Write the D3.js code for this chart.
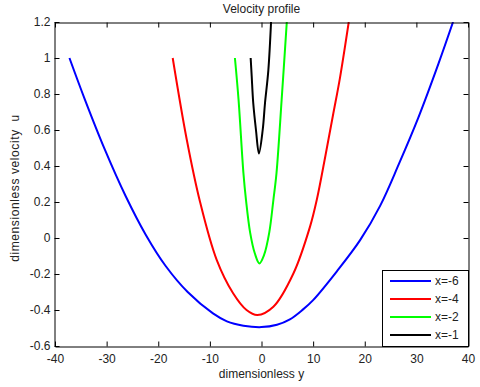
<!DOCTYPE html>
<meta charset="utf-8">
<style>
  body { margin: 0; background: #fff; }
  text { font-family: "Liberation Sans", Arial, sans-serif; font-size: 12px; fill: #222; }
</style>
<body>
<script src="https://d3js.org/d3.v7.min.js"></script>
<script>

// curve samples: [dimensionless y, u]
var blueData = [[-37.2,1.0],[-34.3,0.776],[-30.4,0.495],[-26.3,0.232],[-22.4,0.017],[-18.6,-0.154],[-14.3,-0.30],[-9.4,-0.419],[-6.7,-0.463],[-3.5,-0.487],[0,-0.495],[3,-0.482],[5.5,-0.452],[8,-0.398],[10.0,-0.345],[14.6,-0.185],[19.1,-0.012],[23.0,0.18],[26.6,0.41],[30.4,0.67],[34.3,0.97],[37.1,1.2]];
var redData = [[-17.2,1.0],[-14.5,0.55],[-11.9,0.2],[-8.7,-0.12],[-5.5,-0.307],[-2.9,-0.4],[-0.8,-0.428],[2.3,-0.382],[6.2,-0.196],[9.4,0.063],[10.7,0.211],[12.4,0.46],[13.9,0.69],[15.2,0.89],[16.9,1.2]];
var greenData = [[-5.15,1.0],[-4.45,0.77],[-3.5,0.36],[-3.0,0.21],[-2.2,0.03],[-1.3,-0.085],[-0.42,-0.141],[0.5,-0.094],[1.5,0.03],[2.3,0.211],[2.9,0.359],[3.9,0.767],[4.9,1.2]];
var blackData = [[-2.1,1.0],[-1.9,0.9],[-1.6,0.75],[-1.07,0.6],[-0.5,0.47],[0.23,0.6],[0.68,0.75],[1.32,0.93],[1.85,1.2]];

var seriesNames = ["x=-6", "x=-4", "x=-2", "x=-1"];
var seriesColors = ["#0000ff", "#ff0000", "#00ff00", "#000000"];
var seriesData = [blueData, redData, greenData, blackData];

var xTicks = [-40, -30, -20, -10, 0, 10, 20, 30, 40];
var yTicks = [-0.6, -0.4, -0.2, 0, 0.2, 0.4, 0.6, 0.8, 1, 1.2];

var W = 480, H = 387;
var L = 55, R = 468, T = 22, B = 346;

var x = d3.scaleLinear().domain([-40, 40]).range([L, R]);
var y = d3.scaleLinear().domain([-0.6, 1.2]).range([B, T]);

var svg = d3.select("body").append("svg")
    .attr("width", W)
    .attr("height", H);

svg.append("defs").append("clipPath").attr("id", "plot")
  .append("rect").attr("x", L).attr("y", T).attr("width", R - L).attr("height", B - T);

// curves
var line = d3.line()
    .x(function (d) { return x(d[0]); })
    .y(function (d) { return y(d[1]); })
    .curve(d3.curveCatmullRom.alpha(0.5));

svg.append("g").attr("clip-path", "url(#plot)")
  .selectAll("path")
    .data(seriesData)
  .enter().append("path")
    .attr("d", line)
    .attr("fill", "none")
    .attr("stroke", function (d, i) { return seriesColors[i]; })
    .attr("stroke-width", 2);

// axes, matlab style: ticks inside on all four sides
var tk = 5;
var plain = function (d) { return String(+d.toFixed(1)); };  // hyphen minus, like matlab
var axBottom = svg.append("g").attr("transform", "translate(0," + (B + 0.5) + ")")
    .call(d3.axisBottom(x).tickValues(xTicks).tickSizeInner(-tk).tickSizeOuter(0).tickPadding(8).tickFormat(plain));
var axTop = svg.append("g").attr("transform", "translate(0," + (T + 0.5) + ")")
    .call(d3.axisTop(x).tickValues(xTicks).tickSizeInner(-tk).tickSizeOuter(0).tickFormat(""));
var axLeft = svg.append("g").attr("transform", "translate(" + (L - 0.5) + ",0)")
    .call(d3.axisLeft(y).tickValues(yTicks).tickSizeInner(-tk).tickSizeOuter(0).tickPadding(4).tickFormat(plain));
var axRight = svg.append("g").attr("transform", "translate(" + (R + 0.5) + ",0)")
    .call(d3.axisRight(y).tickValues(yTicks).tickSizeInner(-tk).tickSizeOuter(0).tickFormat(""));

[axBottom, axTop, axLeft, axRight].forEach(function (g) {
    g.select(".domain").attr("stroke", "#000");
    g.selectAll(".tick line").attr("stroke", "#000");
    g.selectAll("text").attr("font-family", null).attr("font-size", null).attr("fill", "#222");
});

// titles
svg.append("text")
    .attr("x", (L + R) / 2).attr("y", 13)
    .attr("text-anchor", "middle")
    .text("Velocity profile");

svg.append("text")
    .attr("x", (L + R) / 2).attr("y", 378)
    .attr("text-anchor", "middle")
    .text("dimensionless y");

svg.append("text")
    .attr("transform", "translate(19," + 188 + ") rotate(-90)")
    .attr("text-anchor", "middle")
    .style("white-space", "pre")
    .style("letter-spacing", "0.6px")
    .text("dimensionless velocity  u");

// legend
var lg = svg.append("g");
lg.append("rect")
    .attr("x", 382.5).attr("y", 270.5)
    .attr("width", R - 382).attr("height", B - 270)
    .attr("fill", "#fff").attr("stroke", "#000");

var rowY = d3.scalePoint().domain(seriesNames).range([281, 335]);

var rows = lg.selectAll(".row")
    .data(seriesNames)
  .enter().append("g")
    .attr("class", "row")
    .attr("transform", function (d) { return "translate(0," + rowY(d) + ")"; });

rows.append("line")
    .attr("x1", 390).attr("x2", 431)
    .attr("stroke", function (d, i) { return seriesColors[i]; })
    .attr("stroke-width", 2);

rows.append("text")
    .attr("x", 435).attr("dy", "0.35em")
    .text(function (d) { return d; });

</script>
</body>
